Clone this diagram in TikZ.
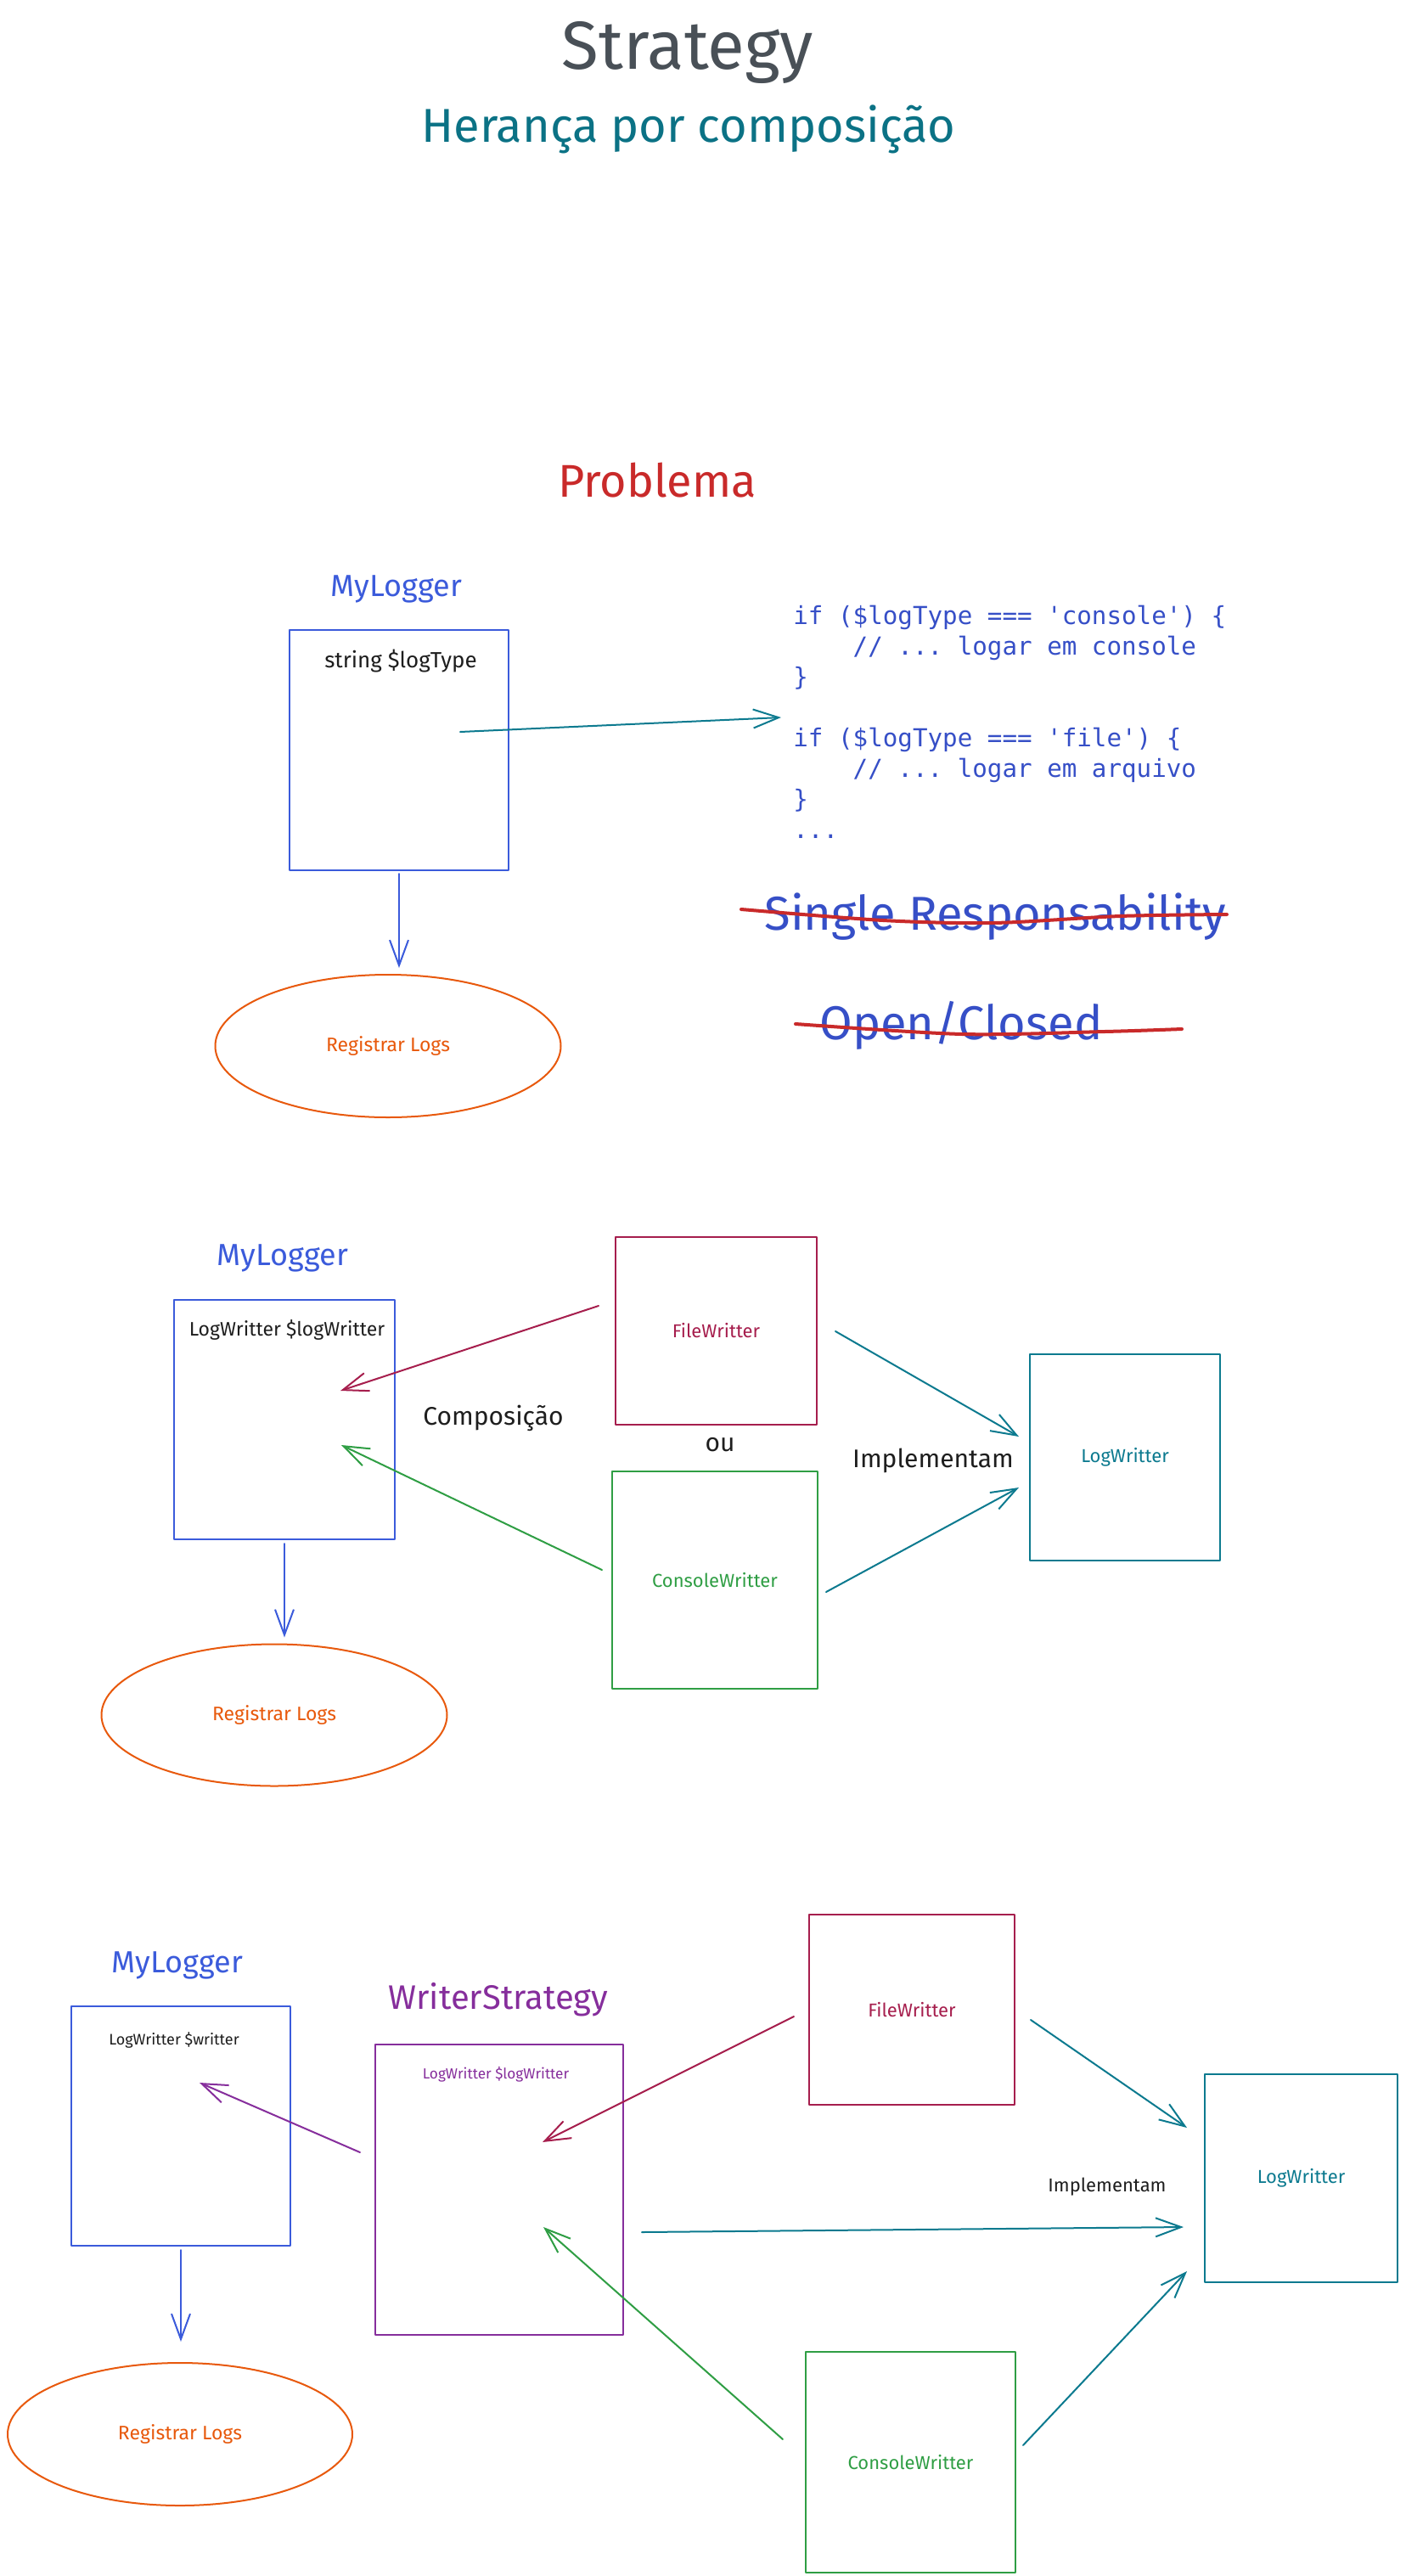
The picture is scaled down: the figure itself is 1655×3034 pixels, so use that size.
\documentclass[tikz,border=0pt]{standalone}
\usepackage{fontspec}
\setmainfont{Fira Sans}
\setmonofont{DejaVu Sans Mono}
\usetikzlibrary{arrows.meta,shapes.geometric}
\definecolor{cGray}{HTML}{495057}
\definecolor{cTeal}{HTML}{0B7285}
\definecolor{cRed}{HTML}{C92A2A}
\definecolor{cBlue}{HTML}{3B5BDB}
\definecolor{cCode}{HTML}{364FC7}
\definecolor{cOrange}{HTML}{E8590C}
\definecolor{cFile}{HTML}{A61E4D}
\definecolor{cConsole}{HTML}{2F9E44}
\definecolor{cWriter}{HTML}{0C7A8F}
\definecolor{cPurple}{HTML}{862E9C}
\definecolor{cInk}{HTML}{1E1E1E}
\begin{document}
\begin{tikzpicture}[x=0.5pt, y=-0.5pt, line join=round, line cap=round,
 >={Straight Barb[length=15pt,width=11pt]},
 box/.style={draw, line width=1pt, anchor=north west, inner sep=0pt, font=\fontsize{11}{13}\selectfont},
 oval/.style={draw=cOrange, ellipse, line width=1pt, inner sep=0pt, text=cOrange, font=\fontsize{11.5}{13}\selectfont},
 title/.style={inner sep=0pt, font=\fontsize{18}{20}\selectfont},
 note/.style={inner sep=0pt, text=cInk},
 arr/.style={->, line width=1pt}]
 \useasboundingbox[fill=white] (0,0) rectangle (1655,3034);
 \node[inner sep=0pt, text=cGray, font=\fontsize{40}{42}\selectfont] (strategy) at (810,62) {Strategy};
 \node[inner sep=0pt, text=cTeal, font=\fontsize{28}{30}\selectfont] (heranca) at (811,152) {Herança por composição};
 \node[inner sep=0pt, text=cRed, font=\fontsize{27}{30}\selectfont] (problema) at (774,566) {Problema};
 % problema
 \node[title, text=cBlue] (t1) at (467,694) {MyLogger};
 \node[box, draw=cBlue, minimum width=129pt, minimum height=141.5pt] (log1) at (340,741) {};
 \node[note, font=\fontsize{13}{15}\selectfont] (attr1) at (472,779) {string \$logType};
 \node[oval, minimum width=203.5pt, minimum height=84pt] (reg1) at (457,1232) {Registrar Logs};
 \node[anchor=north west, inner sep=0pt, align=left, text=cCode, font=\ttfamily\fontsize{14.6}{18}\selectfont] (code) at (934,713)
 {if (\$logType === 'console') \{\\
 \phantom{xxxx}// ... logar em console\\
 \}\\[18pt]
 if (\$logType === 'file') \{\\
 \phantom{xxxx}// ... logar em arquivo\\
 \}\\
 ...};
 \coordinate (a1) at (542,862);
 \coordinate (b1) at (920,845);
 \draw[arr, cWriter] (a1) -- (b1);
 \draw[arr, cBlue, shorten <=1.5pt, shorten >=3.5pt] (log1.south) -- (log1.south |- reg1.north);
 \node[inner sep=0pt, text=cCode, font=\fontsize{28}{30}\selectfont] (srp) at (1172,1080) {Single Responsability};
 \draw[cRed, line width=2pt] plot[smooth] coordinates {(873,1071) (1040,1084) (1170,1087) (1319,1079) (1445,1077)};
 \node[inner sep=0pt, text=cCode, font=\fontsize{28}{30}\selectfont] (ocp) at (1132,1208) {Open/Closed};
 \draw[cRed, line width=2pt] plot[smooth] coordinates {(937,1206) (1133,1218) (1301,1215) (1392,1212)};
 % composicao
 \node[title, text=cBlue] (t2) at (333,1482) {MyLogger};
 \node[box, draw=cBlue, minimum width=130pt, minimum height=141pt] (log2) at (204,1530) {};
 \node[note, font=\fontsize{11.5}{13}\selectfont] (attr2) at (338,1566) {LogWritter \$logWritter};
 \node[oval, minimum width=203.5pt, minimum height=83.5pt] (reg2) at (323,2020) {Registrar Logs};
 \node[box, draw=cFile, text=cFile, minimum width=118.5pt, minimum height=110.5pt] (file2) at (724,1456) {FileWritter};
 \node[box, draw=cConsole, text=cConsole, minimum width=121pt, minimum height=128pt] (cons2) at (720,1732) {ConsoleWritter};
 \node[box, draw=cWriter, text=cWriter, minimum width=112pt, minimum height=121.5pt] (writer2) at (1212,1594) {LogWritter};
 \node[note, font=\fontsize{15}{17}\selectfont] (comp) at (581,1670) {Composição};
 \node[note, font=\fontsize{15}{17}\selectfont] (ou) at (848,1702) {ou};
 \node[note, font=\fontsize{15}{17}\selectfont] (impl2) at (1099,1720) {Implementam};
 \coordinate (f2a) at (705,1538);  \coordinate (l2a) at (401,1638);
 \coordinate (c2a) at (709,1849);  \coordinate (l2b) at (402,1702);
 \coordinate (f2b) at (984,1568);  \coordinate (w2a) at (1200,1692);
 \coordinate (c2b) at (973,1875);  \coordinate (w2b) at (1200,1752);
 \draw[arr, cFile] (f2a) -- (l2a);
 \draw[arr, cConsole] (c2a) -- (l2b);
 \draw[arr, cWriter] (f2b) -- (w2a);
 \draw[arr, cWriter] (c2b) -- (w2b);
 \draw[arr, cBlue, shorten <=2pt, shorten >=3.5pt] (log2.south) -- (log2.south |- reg2.north);
 % strategy
 \node[title, text=cBlue] (t3) at (209,2315) {MyLogger};
 \node[box, draw=cBlue, minimum width=129pt, minimum height=141pt] (log3) at (83,2362) {};
 \node[note, font=\fontsize{9}{11}\selectfont] (attr3) at (205,2403) {LogWritter \$writter};
 \node[oval, minimum width=203pt, minimum height=84pt] (reg3) at (212,2867) {Registrar Logs};
 \node[inner sep=0pt, text=cPurple, font=\fontsize{20}{22}\selectfont] (t4) at (587,2355) {WriterStrategy};
 \node[box, draw=cPurple, minimum width=146pt, minimum height=171pt] (strat3) at (441,2407) {};
 \node[note, text=cPurple, font=\fontsize{8.6}{10}\selectfont] (attr4) at (584,2443) {LogWritter \$logWritter};
 \node[box, draw=cFile, text=cFile, minimum width=121pt, minimum height=112pt] (file3) at (952,2254) {FileWritter};
 \node[box, draw=cConsole, text=cConsole, minimum width=123.5pt, minimum height=130pt] (cons3) at (948,2769) {ConsoleWritter};
 \node[box, draw=cWriter, text=cWriter, minimum width=113.5pt, minimum height=122.5pt] (writer3) at (1418,2442) {LogWritter};
 \node[note, font=\fontsize{11}{13}\selectfont] (impl3) at (1304,2576) {Implementam};
 \coordinate (s3a) at (424,2535);  \coordinate (l3a) at (235,2453);
 \coordinate (f3a) at (935,2375);  \coordinate (s3b) at (639,2523);
 \coordinate (c3a) at (922,2873);  \coordinate (s3c) at (640,2623);
 \coordinate (f3b) at (1214,2379); \coordinate (w3a) at (1398,2506);
 \coordinate (s3d) at (756,2629);  \coordinate (w3b) at (1394,2623);
 \coordinate (c3b) at (1205,2880); \coordinate (w3c) at (1398,2675);
 \draw[arr, cPurple] (s3a) -- (l3a);
 \draw[arr, cFile] (f3a) -- (s3b);
 \draw[arr, cConsole] (c3a) -- (s3c);
 \draw[arr, cWriter] (f3b) -- (w3a);
 \draw[arr, cWriter] (s3d) -- (w3b);
 \draw[arr, cWriter] (c3b) -- (w3c);
 \draw[arr, cBlue, shorten <=2pt, shorten >=12pt] (log3.south) -- (log3.south |- reg3.north);
\end{tikzpicture}
\end{document}
